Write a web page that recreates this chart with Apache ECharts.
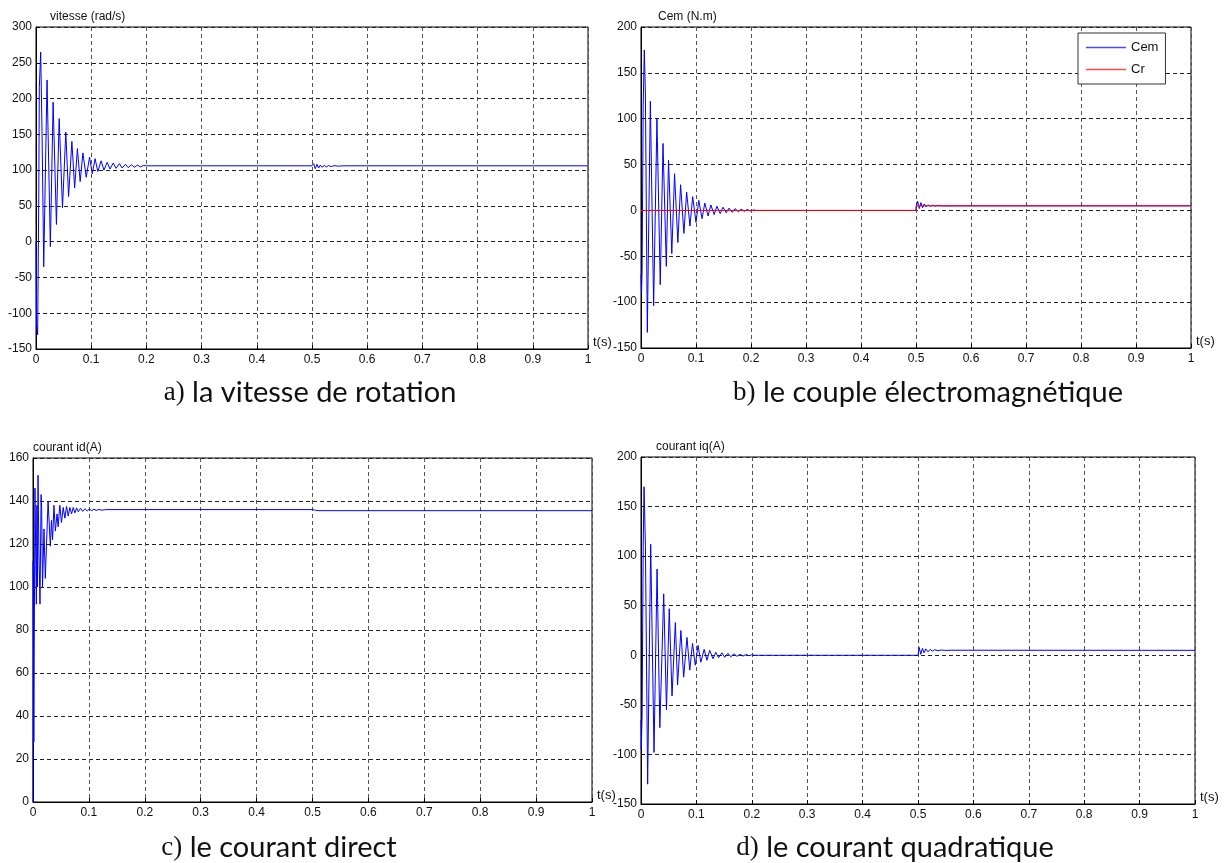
<!DOCTYPE html>
<html>
<head>
<meta charset="utf-8">
<script src="https://cdn.jsdelivr.net/npm/echarts@6/dist/echarts.min.js"></script>
<style>
  html, body { margin: 0; padding: 0; background: #fff; }
  #chart { width: 1229px; height: 863px; }
</style>
</head>
<body>
<div id="chart"></div>
<script>
  // points [t (s), value] (peaks and troughs)
  var vitesse = [
    [0, 0], [0.001, -115], [0.003, -130], [0.005, 60], [0.006, 215], [0.0085, 265], [0.011, 150],
    [0.014, -35], [0.020, 226], [0.026, -7], [0.031, 195], [0.037, 24], [0.042, 172], [0.048, 47],
    [0.054, 153], [0.059, 63], [0.065, 140], [0.070, 75], [0.075, 130], [0.080, 84], [0.085, 124],
    [0.091, 90], [0.097, 118], [0.102, 95], [0.107, 116], [0.112, 98], [0.118, 113], [0.123, 100],
    [0.129, 111], [0.134, 101.5], [0.140, 110], [0.145, 102.5], [0.151, 109], [0.156, 103],
    [0.162, 108], [0.167, 103.5], [0.173, 107.5], [0.178, 104], [0.184, 107], [0.189, 104.5],
    [0.195, 106.5], [0.2, 106], [0.5, 106], [0.503, 109], [0.506, 102], [0.509, 108], [0.512, 103],
    [0.515, 107], [0.518, 104], [0.522, 106.5], [0.526, 104.5], [0.530, 106.3], [0.535, 105],
    [0.540, 106.2], [0.548, 105.5], [0.556, 106], [1, 106]
  ];
  var cem = [
    [0, -70], [0.001, -90], [0.002, -65], [0.004, 115], [0.006, 175], [0.008, 128], [0.0115, -133],
    [0.017, 119], [0.023, -104], [0.029, 100], [0.035, -81], [0.040, 73], [0.046, -61], [0.050, 55],
    [0.056, -47], [0.061, 40], [0.067, -35], [0.072, 28], [0.078, -25], [0.083, 20], [0.089, -17],
    [0.094, 15], [0.100, -13], [0.105, 11], [0.111, -9], [0.116, 8], [0.122, -6], [0.127, 6],
    [0.133, -4.5], [0.138, 4.5], [0.144, -3.5], [0.149, 3.5], [0.155, -2.5], [0.160, 2.5],
    [0.166, -2], [0.171, 2], [0.177, -1.5], [0.182, 1.5], [0.188, -1], [0.193, 1], [0.199, -0.5],
    [0.205, 0.5], [0.210, 0], [0.5, 0], [0.501, 5], [0.503, 10], [0.506, 2], [0.509, 8.5],
    [0.512, 3], [0.515, 7], [0.518, 4], [0.522, 6], [0.526, 4.5], [0.530, 5.5], [0.535, 4.8],
    [0.540, 5.3], [0.550, 4.9], [0.570, 5], [1, 5]
  ];
  var cr = [[0, 0], [0.5, 0], [0.5, 5], [1, 5]];
  var courantId = [
    [0, 0], [0.0003, 112], [0.0015, 28], [0.0035, 146], [0.006, 92], [0.007, 138], [0.008, 100],
    [0.009, 152], [0.0105, 118], [0.0125, 92], [0.0145, 143], [0.0155, 137], [0.017, 100],
    [0.0197, 127], [0.022, 104], [0.024, 104], [0.027, 140], [0.031, 119], [0.033, 131],
    [0.035, 122], [0.0375, 138], [0.040, 126], [0.043, 134], [0.045, 128], [0.048, 138],
    [0.051, 130], [0.054, 137], [0.057, 132], [0.060, 137.5], [0.063, 133], [0.066, 137],
    [0.069, 134], [0.072, 137], [0.075, 134.5], [0.078, 136.8], [0.081, 135], [0.085, 136.6],
    [0.089, 135.2], [0.093, 136.4], [0.097, 135.4], [0.101, 136.3], [0.105, 135.5], [0.109, 136.2],
    [0.113, 135.6], [0.118, 136.1], [0.123, 135.7], [0.13, 136], [0.5, 136], [0.502, 135.2],
    [0.505, 135.7], [0.51, 135.5], [1, 135.5]
  ];
  var courantIq = [
    [0, -65], [0.0005, -95], [0.002, -60], [0.004, 110], [0.0055, 170], [0.008, 110], [0.012, -130],
    [0.0175, 112], [0.0235, -98], [0.029, 87], [0.034, -73], [0.041, 62], [0.046, -55], [0.051, 47],
    [0.056, -41], [0.062, 33], [0.066, -30], [0.072, 25], [0.077, -22], [0.083, 18], [0.088, -15],
    [0.093, 12], [0.098, -10], [0.103, 10], [0.108, -7], [0.114, 6], [0.119, -5], [0.124, 5],
    [0.13, -3.5], [0.135, 3], [0.14, -2.5], [0.146, 2.5], [0.151, -2], [0.157, 2], [0.162, -1.5],
    [0.168, 1.5], [0.173, -1], [0.179, 1], [0.184, -0.8], [0.19, 0.8], [0.195, -0.5], [0.2, 0.5],
    [0.205, 0], [0.5, 0], [0.502, 8], [0.505, 1], [0.508, 7], [0.511, 2.5], [0.514, 6.5],
    [0.518, 3.5], [0.522, 6], [0.526, 4.2], [0.53, 5.6], [0.536, 4.6], [0.542, 5.3], [0.55, 4.9],
    [0.56, 5.1], [1, 5]
  ];

  var yNames = ['vitesse (rad/s)', 'Cem (N.m)', 'courant id(A)', 'courant iq(A)'];
  var yMin = [-150, -150, 0, -150];
  var yMax = [300, 200, 160, 200];
  var yStep = [50, 50, 20, 50];
  var captions = [
    ['a)', ' la vitesse de rotation'],
    ['b)', ' le couple électromagnétique'],
    ['c)', ' le courant direct'],
    ['d)', ' le courant quadratique']
  ];

  var grids = [
    { left: 36, top: 27, width: 552, height: 322 },
    { left: 641, top: 27, width: 550, height: 321 },
    { left: 33, top: 458, width: 559, height: 344 },
    { left: 641, top: 457, width: 554, height: 347 }
  ];
  var namePad = [14, 17, 0, 15];
  var capPos = [[310, 393], [928, 393], [279, 848], [895, 848]];

  var fam = 'Liberation Sans, Arial, sans-serif';
  var tickFont = { color: '#111', fontSize: 12, fontFamily: fam };

  var myChart = echarts.init(document.getElementById('chart'), null, { renderer: 'canvas' });

  var option = {
    animation: false,
    backgroundColor: '#fff',
    grid: grids.map(function (g) {
      return Object.assign({ show: true, borderColor: '#000', borderWidth: 1, backgroundColor: '#fff', containLabel: false }, g);
    }),
    xAxis: grids.map(function (g, i) {
      return {
        type: 'value', gridIndex: i, min: 0, max: 1, interval: 0.1,
        name: 't(s)', nameLocation: 'end', nameGap: 5,
        nameTextStyle: { color: '#111', fontSize: 13, fontFamily: fam, align: 'left', verticalAlign: 'bottom' },
        axisLine: { show: true, onZero: false, lineStyle: { color: '#000', width: 1 } },
        axisTick: { show: true, inside: true, length: 4, lineStyle: { color: '#000' } },
        axisLabel: Object.assign({ margin: 5 }, tickFont),
        splitLine: { show: true, lineStyle: { color: '#555', type: [4, 3], width: 1 } }
      };
    }),
    yAxis: grids.map(function (g, i) {
      return {
        type: 'value', gridIndex: i, min: yMin[i], max: yMax[i], interval: yStep[i],
        name: yNames[i], nameLocation: 'end', nameGap: 4,
        nameTextStyle: { color: '#111', fontSize: 12, fontFamily: fam, align: 'left', padding: [0, 0, 0, namePad[i]] },
        axisLine: { show: true, onZero: false, lineStyle: { color: '#000', width: 1 } },
        axisTick: { show: true, inside: true, length: 4, lineStyle: { color: '#000' } },
        axisLabel: Object.assign({ margin: 4 }, tickFont),
        splitLine: { show: true, lineStyle: { color: '#222', type: [4, 3], width: 1 } }
      };
    }),
    legend: {
      data: ['Cem', 'Cr'],
      orient: 'vertical',
      left: 1078, top: 33,
      padding: [8, 7, 8, 8],
      itemGap: 9,
      icon: 'rect',
      itemWidth: 40, itemHeight: 1.5,
      backgroundColor: '#fff',
      borderColor: '#333', borderWidth: 1,
      textStyle: { color: '#111', fontSize: 13, fontFamily: fam }
    },
    series: [
      { name: 'vitesse', type: 'line', xAxisIndex: 0, yAxisIndex: 0, data: vitesse, showSymbol: false, symbol: 'none', lineStyle: { color: '#0000ff', width: 1 }, itemStyle: { color: '#0000ff' } },
      { name: 'Cem', type: 'line', xAxisIndex: 1, yAxisIndex: 1, data: cem, showSymbol: false, symbol: 'none', lineStyle: { color: '#0000ff', width: 1 }, itemStyle: { color: '#4a4aff' } },
      { name: 'Cr', type: 'line', xAxisIndex: 1, yAxisIndex: 1, data: cr, showSymbol: false, symbol: 'none', lineStyle: { color: '#ff0000', width: 1 }, itemStyle: { color: '#ff4a4a' } },
      { name: 'id', type: 'line', xAxisIndex: 2, yAxisIndex: 2, data: courantId, showSymbol: false, symbol: 'none', lineStyle: { color: '#0000ff', width: 1 }, itemStyle: { color: '#0000ff' } },
      { name: 'iq', type: 'line', xAxisIndex: 3, yAxisIndex: 3, data: courantIq, showSymbol: false, symbol: 'none', lineStyle: { color: '#0000ff', width: 1 }, itemStyle: { color: '#0000ff' } }
    ],
    graphic: captions.map(function (c, i) {
      return {
        type: 'text',
        x: capPos[i][0], y: capPos[i][1],
        style: {
          text: '{s|' + c[0] + '}{n|' + c[1] + '}',
          align: 'center', verticalAlign: 'middle',
          rich: {
            s: { fontFamily: 'Liberation Serif, serif', fontSize: 27, fill: '#111' },
            n: { fontFamily: 'Lato, sans-serif', fontSize: 29, fill: '#111' }
          }
        }
      };
    })
  };

  myChart.setOption(option, true);
  window.addEventListener('resize', function () {
    myChart.resize();
  });
</script>
</body>
</html>
